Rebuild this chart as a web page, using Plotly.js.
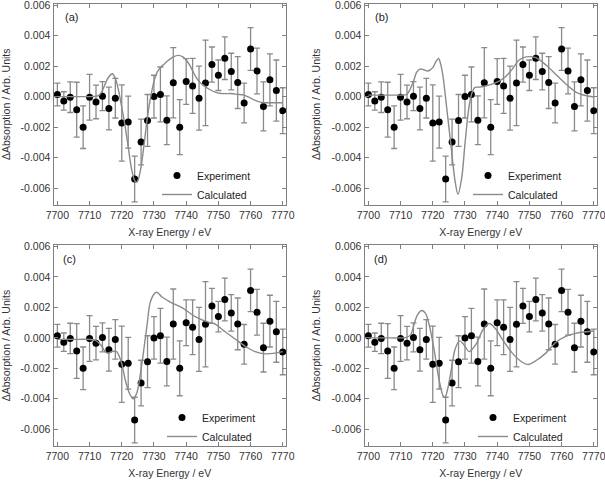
<!DOCTYPE html>
<html>
<head>
<meta charset="utf-8">
<script src="https://cdn.plot.ly/plotly-3.0.1.min.js"></script>
<style>html,body{margin:0;padding:0;background:#fff;}#chart{width:605px;height:482px;}</style>
</head>
<body>
<div id="chart"></div>
<script>
// Experimental data (same in all four panels)
const energy = [7700,7702,7704,7706,7708,7710,7712,7714,7716,7718,7720,7722,7724,7726,7728,7730,7732,7734,
                7736,7738,7740,7742,7744,7746,7748,7750,7752,7754,7756,7758,7760,7762,7764,7766,7768,7770];
const expt = [0.00014,-0.00028,-0.00004,-0.00086,-0.002,-0.00004,-0.00035,0.00003,-0.00078,-0.0001,-0.00173,-0.00167,
              -0.0054,-0.00297,-0.00156,0.0,0.00014,-0.00155,0.00091,-0.002,0.00099,0.0007,-0.0001,0.0009,
              0.0021,0.0014,0.00252,0.00164,0.00092,-0.00042,0.00312,0.00168,-0.00064,0.0011,0.0004,-0.00092];
const exptErr = [0.00075,0.0006,0.001,0.0018,0.0014,0.0015,0.0011,0.00095,0.0014,0.0013,0.0025,0.0017,
                 0.0015,0.0015,0.0017,0.0014,0.0018,0.0016,0.0023,0.0018,0.0015,0.0018,0.0021,0.0028,
                 0.00115,0.001,0.0014,0.0012,0.0017,0.0013,0.0014,0.0015,0.0016,0.0017,0.002,0.0015];

// Calculated curves
const calcA_x = [7700,7705,7710,7712,7713,7714,7715,7716,7717,7718,7719,7720,7721,7722,7723,7724,7724.5,7725,7726,7727,
                 7728,7729,7730,7731,7732,7733,7734,7736,7737.5,7739,7740,7741,7742,7743,7744,7745,7747,7749,7751,7754,
                 7756,7758,7760,7762,7764,7766,7768,7770];
const calcA_y = [0,0,0,0.00002,0.0001,0.0004,0.0009,0.0013,0.0015,0.0012,0.0004,-0.0007,-0.0019,-0.0033,-0.0047,-0.0055,-0.0056,-0.0055,-0.0046,-0.003,
                 -0.0013,0.0,0.001,0.0016,0.0019,0.0021,0.0023,0.0026,0.0027,0.0026,0.0024,0.0021,0.0017,0.0013,0.001,0.0008,0.0005,0.0003,0.0002,0.0002,
                 0.00015,0.0001,-0.0001,-0.0003,-0.0004,-0.0004,-0.0004,-0.0004];

const calcB_x = [7700,7705,7710,7712,7713,7714,7715,7716,7717,7718.5,7720,7721,7721.8,7722.5,7723.2,7724.2,7725.6,7726.9,7727.8,7729,
                 7730,7731.1,7732.1,7733.1,7734.4,7736,7739.5,7742.6,7744.7,7746.8,7749,7752,7755,7758,7761.3,7764.4,7767.5,7770];
const calcB_y = [0.0001,0.0001,0.0001,0.00015,0.0005,0.001,0.0016,0.0018,0.00178,0.00168,0.0019,0.0023,0.0025,0.0021,0.0013,-0.0005,-0.0031,-0.0055,-0.0064,-0.0053,
                 -0.0031,-0.0009,0.0002,0.0006,0.00062,0.00068,0.0009,0.0013,0.0018,0.0024,0.0026,0.00255,0.0021,0.0015,0.00083,0.0003,0.00007,-0.00003];

const calcC_x = [7700,7705,7710,7711.7,7713.8,7714.8,7715.6,7716.9,7718.4,7720,7721,7722.3,7723.5,7724.7,7725.7,7726.7,7727.8,7728.8,7730.1,7730.9,
                 7732.4,7735.5,7738.6,7742.8,7745.9,7749,7752.1,7755.2,7758.3,7761.4,7764.5,7767.6,7770];
const calcC_y = [-0.0001,-0.0001,-0.0001,-0.00015,-0.00055,-0.0009,-0.001,-0.0009,-0.0009,-0.0017,-0.0027,-0.0036,-0.004,-0.0036,-0.0025,-0.001,0.00076,0.0023,0.0029,0.003,
                 0.0027,0.0023,0.002,0.0014,0.0011,0.0009,0.0004,-0.00007,-0.00055,-0.0009,-0.00105,-0.001,-0.0009];

const calcD_x = [7700,7705,7710,7711.5,7713.1,7714.2,7715.2,7716.6,7717.8,7719,7720.4,7721.9,7723.2,7723.8,7724.8,7725.9,7726.9,7728.3,7729.5,7731.3,
                 7733.5,7735.5,7737.5,7739.5,7741.6,7744.7,7747.8,7749.6,7752,7755.1,7758.2,7761.3,7764.4,7767.5,7770];
const calcD_y = [0,0,0,0.00002,0.0002,0.0009,0.0015,0.0018,0.0016,0.00076,-0.00076,-0.0027,-0.0038,-0.0039,-0.0032,-0.0019,-0.00076,-0.0002,-0.0004,-0.0009,
                 -0.0004,0.0005,0.00094,0.0006,-0.0001,-0.001,-0.0016,-0.00175,-0.0015,-0.001,-0.0003,0.0001,0.0003,0.0004,0.00045];

const panelLabels = ['(a)','(b)','(c)','(d)'];
const xTickVals = [7700,7710,7720,7730,7740,7750,7760,7770];
const yTickVals = [-0.006,-0.004,-0.002,0,0.002,0.004,0.006];
const yTickText = ['-0.006','-0.004','-0.002','0.000','0.002','0.004','0.006'];

const calcX = [calcA_x, calcB_x, calcC_x, calcD_x];
const calcY = [calcA_y, calcB_y, calcC_y, calcD_y];

const W = 605, H = 482;
const FONT = 'Liberation Sans, Arial, Helvetica, sans-serif';
const domX = [[53.5/W, 286/W], [364.5/W, 597/W]];
const domY = [[1-205/H, 1-3.5/H], [1-446/H, 1-245/H]];
const legendPos = [[157, 161], [468, 161], [162, 403], [473, 403]];
const labelPos = [[71, 17], [381.5, 17], [69, 259], [380, 259]];

const traces = [];
const layout = {
  width: W, height: H,
  margin: {l:0, r:0, t:0, b:0},
  paper_bgcolor: '#fff', plot_bgcolor: '#fff',
  font: {family: FONT, color: '#222', size: 11},
  showlegend: true,
  annotations: []
};

for (let i = 0; i < 4; i++) {
  const sfx = i === 0 ? '' : String(i+1);
  const xa = 'x' + sfx, ya = 'y' + sfx;
  const lg = 'legend' + sfx;
  traces.push({
    x: energy, y: expt, xaxis: xa, yaxis: ya, type: 'scatter', mode: 'markers',
    name: 'Experiment', legend: lg,
    marker: {color: '#000', size: 7},
    error_y: {type: 'data', array: exptErr, visible: true, color: '#8a8a8a', thickness: 1.3, width: 3}
  });
  traces.push({
    x: calcX[i], y: calcY[i], xaxis: xa, yaxis: ya, type: 'scatter', mode: 'lines',
    name: 'Calculated', legend: lg,
    line: {color: '#8a8a8a', width: 1.4, shape: 'spline', smoothing: 0.8}
  });
  const col = i % 2, row = Math.floor(i / 2);
  layout['xaxis' + sfx] = {
    domain: domX[col], anchor: ya, range: [7698.8, 7771],
    tickvals: xTickVals, ticks: 'inside', ticklen: 4, tickcolor: '#808080',
    showline: true, mirror: 'ticks', linecolor: '#808080', linewidth: 1,
    showgrid: false, zeroline: false, ticklabeloverflow: 'allow',
    tickfont: {size: 10.5, color: '#333'},
    title: {text: 'X-ray Energy / eV', font: {size: 10.5, color: '#333'}, standoff: 9}
  };
  layout['yaxis' + sfx] = {
    domain: domY[row], anchor: xa, range: [-0.0071, 0.0061],
    tickvals: yTickVals, ticktext: yTickText, ticks: 'inside', ticklen: 4, tickcolor: '#808080',
    showline: true, mirror: 'ticks', linecolor: '#808080', linewidth: 1,
    showgrid: false, zeroline: false, ticklabeloverflow: 'allow',
    tickfont: {size: 10.5, color: '#333'},
    title: {text: 'ΔAbsorption / Arb. Units', font: {size: 10.5, color: '#333'}, standoff: 8}
  };
  layout[lg] = {
    x: legendPos[i][0] / W, y: 1 - legendPos[i][1] / H, xanchor: 'left', yanchor: 'top',
    bgcolor: 'rgba(0,0,0,0)', borderwidth: 0, font: {size: 10.5, color: '#222'}
  };
  layout.annotations.push({
    text: panelLabels[i], xref: 'paper', yref: 'paper',
    x: labelPos[i][0] / W, y: 1 - labelPos[i][1] / H, xanchor: 'center', yanchor: 'middle',
    showarrow: false, font: {size: 11, color: '#222'}
  });
}

Plotly.newPlot('chart', traces, layout, {displayModeBar: false, staticPlot: true});
</script>
</body>
</html>
